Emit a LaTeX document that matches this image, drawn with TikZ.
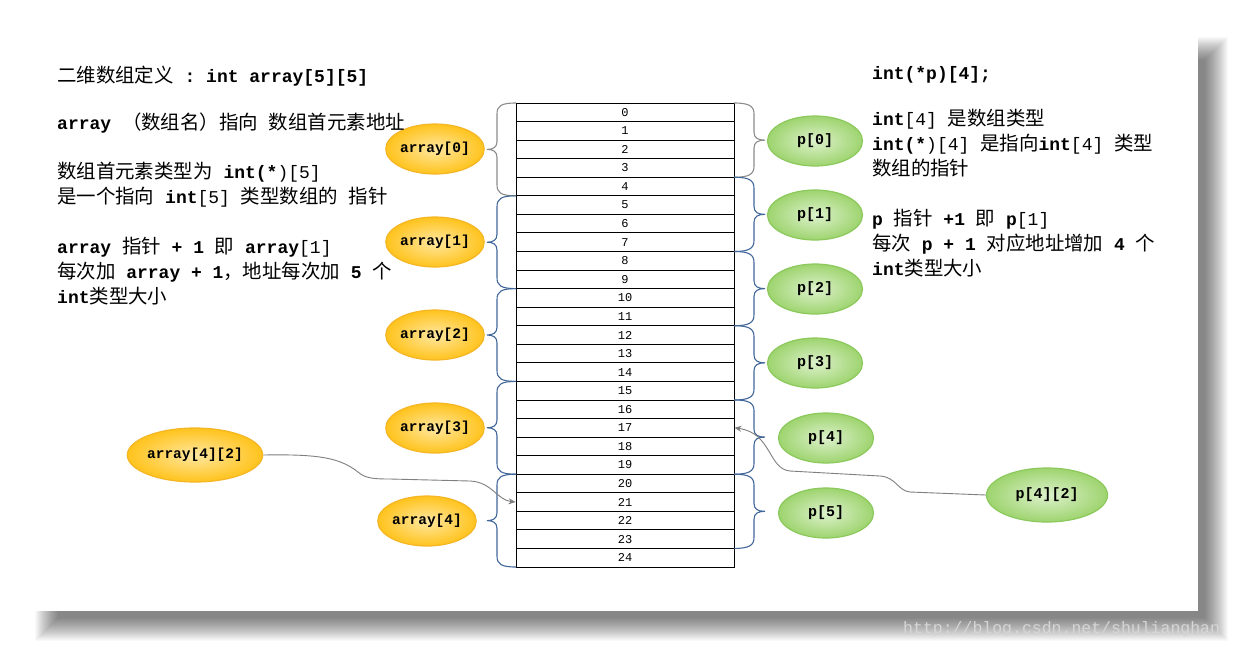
\documentclass[tikz,border=0pt]{standalone}
\usepackage{fontspec}
\setmonofont{Liberation Mono}
\newfontfamily\cjk[Scale=1.08]{Noto Sans CJK SC}
\usetikzlibrary{shapes.geometric,arrows.meta}
\newcommand\zh[1]{{\cjk\mdseries #1}}
\newcommand\tn[1]{{\mdseries #1}}
\definecolor{bracegray}{HTML}{8C8C8C}
\definecolor{braceblue}{HTML}{41669A}
\definecolor{orIn}{HTML}{FFE7A0}
\definecolor{orOut}{HTML}{FFC31C}
\definecolor{orLine}{HTML}{F5B626}
\definecolor{grIn}{HTML}{DDF1CC}
\definecolor{grOut}{HTML}{9ED46F}
\definecolor{grLine}{HTML}{8CC95C}
\definecolor{connc}{HTML}{7F7F7F}
\definecolor{wmc}{HTML}{D6D6D6}
\newcommand\BrL[3]{%
  \pgfmathsetmacro\ym{(#2+#3)/2}%
  \draw[brace,#1] (516,#2) .. controls (501,#2) and (497,#2+3) .. (497,#2+11)
    -- (497,\ym-8) .. controls (497,\ym-2) and (493,\ym) .. (487,\ym)
    .. controls (493,\ym) and (497,\ym+2) .. (497,\ym+8)
    -- (497,#3-11) .. controls (497,#3-3) and (501,#3) .. (516,#3);}
\newcommand\BrR[3]{%
  \pgfmathsetmacro\ym{(#2+#3)/2}%
  \draw[brace,#1] (734,#2) .. controls (749,#2) and (754,#2+3) .. (754,#2+11)
    -- (754,\ym-8) .. controls (754,\ym-2) and (758,\ym) .. (765,\ym)
    .. controls (758,\ym) and (754,\ym+2) .. (754,\ym+8)
    -- (754,#3-11) .. controls (754,#3-3) and (749,#3) .. (734,#3);}
\begin{document}
\begin{tikzpicture}[x=1pt,y=-1pt,
  txt/.style={anchor=base west,inner sep=0pt,font=\fontsize{18}{20}\selectfont\ttfamily\bfseries},
  cell/.style={draw=black,line width=0.9pt,minimum width=218pt,minimum height=18.56pt,inner sep=0pt,font=\fontsize{12}{13}\selectfont\ttfamily},
  orell/.style={ellipse,draw=orLine,line width=1.2pt,inner color=orIn,outer color=orOut,minimum width=95pt,minimum height=50pt,inner sep=0pt,font=\fontsize{14.5}{16}\selectfont\ttfamily\bfseries},
  grell/.style={ellipse,draw=grLine,line width=1.2pt,inner color=grIn,outer color=grOut,minimum width=95pt,minimum height=50pt,inner sep=0pt,font=\fontsize{15}{16}\selectfont\ttfamily\bfseries},
  brace/.style={line width=1.1pt},
  conn/.style={draw=connc,line width=0.9pt,-{Stealth[length=7pt,width=6pt]}},
  wm/.style={anchor=base west,inner sep=0pt,text=wmc,font=\fontsize{16.5}{18}\selectfont\ttfamily}]
\useasboundingbox (0,0) rectangle (1233,646);
\fill[white] (0,0) rectangle (1233,646);
% soft shadow
\foreach \k in {0,...,23}{
  \fill[black,opacity=0.025] (58-\k,60-\k) rectangle (1205+\k,618+\k);
}
\fill[white] (35,35) rectangle (1198,611);
% table
\foreach \i in {0,...,24}{
  \node[cell] (r\i) at (625,{103+18.56*(\i+0.5)}) {\i};
}
% left braces
\BrL{bracegray}{103}{195.8}
\foreach \i in {1,...,4}{
  \pgfmathsetmacro\ya{103+92.8*\i}
  \pgfmathsetmacro\yb{103+92.8*(\i+1)}
  \BrL{braceblue}{\ya}{\yb}
}
% right braces
\BrR{bracegray}{103}{177.24}
\foreach \i in {1,...,5}{
  \pgfmathsetmacro\ya{103+74.24*\i}
  \pgfmathsetmacro\yb{103+74.24*(\i+1)}
  \BrR{braceblue}{\ya}{\yb}
}
% ellipses
\node[orell] (a0) at (435,149) {array[0]};
\node[orell] (a1) at (435,242) {array[1]};
\node[orell] (a2) at (435,335) {array[2]};
\node[orell] (a3) at (435,428) {array[3]};
\node[orell] (a4) at (427,521) {array[4]};
\node[orell,minimum width=124pt,minimum height=54pt] (a42) at (195,455) {array[4][2]};
\node[grell] (p0) at (815,141) {p[0]};
\node[grell] (p1) at (815,215) {p[1]};
\node[grell] (p2) at (815,289) {p[2]};
\node[grell] (p3) at (815,363) {p[3]};
\node[grell] (p4) at (826,438) {p[4]};
\node[grell] (p5) at (826,513) {p[5]};
\node[grell,minimum width=121pt,minimum height=54pt] (p42) at (1047,495) {p[4][2]};
% connectors
\draw[conn] (a42.east) .. controls (320,454) and (340,458) .. (358,472)
  .. controls (365,478) and (372,479) .. (390,479) -- (470,481)
  .. controls (492,482) and (497,500) .. (r21.west);
\draw[conn] (p42.west) -- (910,492) .. controls (898,491) and (896,477) .. (880,476)
  -- (790,471) .. controls (768,469) and (772,433) .. (r17.east);
% left text
\node[txt] (l1) at (57,82) {\zh{二维数组定义} : int array[5][5]};
\node[txt] (l2) at (57,129) {array \zh{（数组名）指向} \zh{数组首元素地址}};
\node[txt] (l3) at (57,178) {\zh{数组首元素类型为} int(*\tn{)[5]}};
\node[txt] (l4) at (57,203) {\zh{是一个指向} int\tn{[5]} \zh{类型数组的} \zh{指针}};
\node[txt] (l5) at (57,253) {array \zh{指针} + 1 \zh{即} array\tn{[1]}};
\node[txt] (l6) at (57,278) {\zh{每次加} array + 1\zh{，地址每次加} 5 \zh{个}};
\node[txt] (l7) at (57,303) {int\zh{类型大小}};
% right text
\node[txt] (r1t) at (872,79) {int(*p)[4];};
\node[txt] (r2t) at (872,125) {int\tn{[4]} \zh{是数组类型}};
\node[txt] (r3t) at (872,150) {int(*\tn{)[4]} \zh{是指向}int\tn{[4]} \zh{类型}};
\node[txt] (r4t) at (872,175) {\zh{数组的指针}};
\node[txt] (r5t) at (872,225) {p \zh{指针} +1 \zh{即} p\tn{[1]}};
\node[txt] (r6t) at (872,250) {\zh{每次} p + 1 \zh{对应地址增加} 4 \zh{个}};
\node[txt] (r7t) at (872,275) {int\zh{类型大小}};
% watermark
\node[wm] (wm) at (903,633) {http://blog.csdn.net/shulianghan};
\end{tikzpicture}
\end{document}
